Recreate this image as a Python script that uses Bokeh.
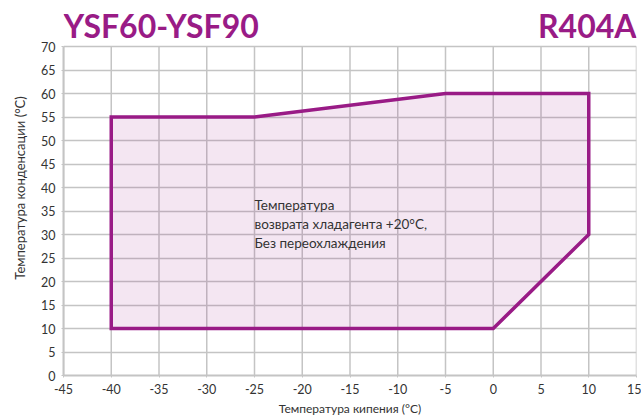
from bokeh.plotting import figure
from bokeh.models import Label, FixedTicker, Range1d
from bokeh.core.properties import value
from bokeh.embed import file_html
from bokeh.resources import INLINE

# data
evap_temp = [-40, -40, -25, -5, 10, 10, 0]
cond_temp = [10, 55, 55, 60, 60, 30, 10]
x_ticks = [-45, -40, -35, -30, -25, -20, -15, -10, -5, 0, 5, 10, 15]
y_ticks = [0, 5, 10, 15, 20, 25, 30, 35, 40, 45, 50, 55, 60, 65, 70]
title_left = "YSF60-YSF90"
title_right = "R404A"
note = "Температура\nвозврата хладагента +20°C,\nБез переохлаждения"
x_label = "Температура кипения (°C)"
y_label = "Температура конденсации (°C)"

PURPLE = "#991b86"
GRID = "#c4c4c4"
FONT = "Lato"

W, H = 641, 418
BL, BR, BT, BB = 63, 5, 0, 43
GRID_H = 329  # pixel height of the gridded area (0..70)
x_min, x_max = x_ticks[0], x_ticks[-1]
y_min, y_max = y_ticks[0], y_ticks[-1]
y_top = y_max * (H - BT - BB) / GRID_H  # extra room above 70 for the titles

p = figure(width=W, height=H, x_range=Range1d(x_min, x_max), y_range=Range1d(y_min, y_top),
           title=None, output_backend="svg", toolbar_location=None,
           min_border_left=BL, min_border_right=BR, min_border_top=BT, min_border_bottom=BB)
p.outline_line_color = None

# vertical grid lines limited to 0..70
p.xgrid.visible = False
p.segment(x0=x_ticks, y0=[y_min] * len(x_ticks), x1=x_ticks, y1=[y_max] * len(x_ticks),
          line_color=GRID, line_width=1.5)
p.ygrid.ticker = FixedTicker(ticks=y_ticks)
p.ygrid.grid_line_color = GRID
p.ygrid.grid_line_width = 1.5
p.ygrid.level = "underlay"

p.patch(evap_temp, cond_temp, fill_color=PURPLE, fill_alpha=0.11,
        line_color=PURPLE, line_width=3.5, line_join="miter")

for ax in (p.xaxis, p.yaxis):
    ax.axis_line_color = GRID
    ax.axis_line_width = 2
    ax.major_tick_line_color = GRID
    ax.major_tick_in = 0
    ax.major_tick_out = 2
    ax.minor_tick_line_color = None
    ax.major_label_text_font = FONT
    ax.major_label_text_font_size = "12.5px"
    ax.major_label_text_color = "#333333"
    ax.axis_label_text_font = FONT
    ax.axis_label_text_font_style = "normal"
    ax.axis_label_text_color = "#333333"

p.xaxis.ticker = FixedTicker(ticks=x_ticks)
p.yaxis.ticker = FixedTicker(ticks=y_ticks)
p.yaxis.bounds = (y_min, y_max)
p.xaxis.major_label_overrides = {t: str(t) for t in x_ticks}
p.xaxis.axis_label = x_label
p.yaxis.axis_label = y_label
p.xaxis.axis_label_text_font_size = "12px"
p.yaxis.axis_label_text_font_size = "13px"
p.xaxis.major_label_standoff = 6
p.yaxis.major_label_standoff = 6
p.xaxis.axis_label_standoff = 4
p.yaxis.axis_label_standoff = 10

# titles above the gridded area
p.text(x=[x_min], y=[70.4], text=[title_left], text_font=value(FONT), text_font_size="32px",
       text_font_style="bold", text_color=PURPLE, text_baseline="bottom", text_align="left")
p.text(x=[x_max], y=[70.4], text=[title_right], text_font=value(FONT), text_font_size="32px",
       text_font_style="bold", text_color=PURPLE, text_baseline="bottom", text_align="right")

p.add_layout(Label(x=-25, y=38.0, text=note, text_font=FONT, text_font_size="13.5px",
                   text_color="#333333", text_baseline="top", text_line_height=1.2))

open("out.html", "w").write(file_html(p, INLINE))
